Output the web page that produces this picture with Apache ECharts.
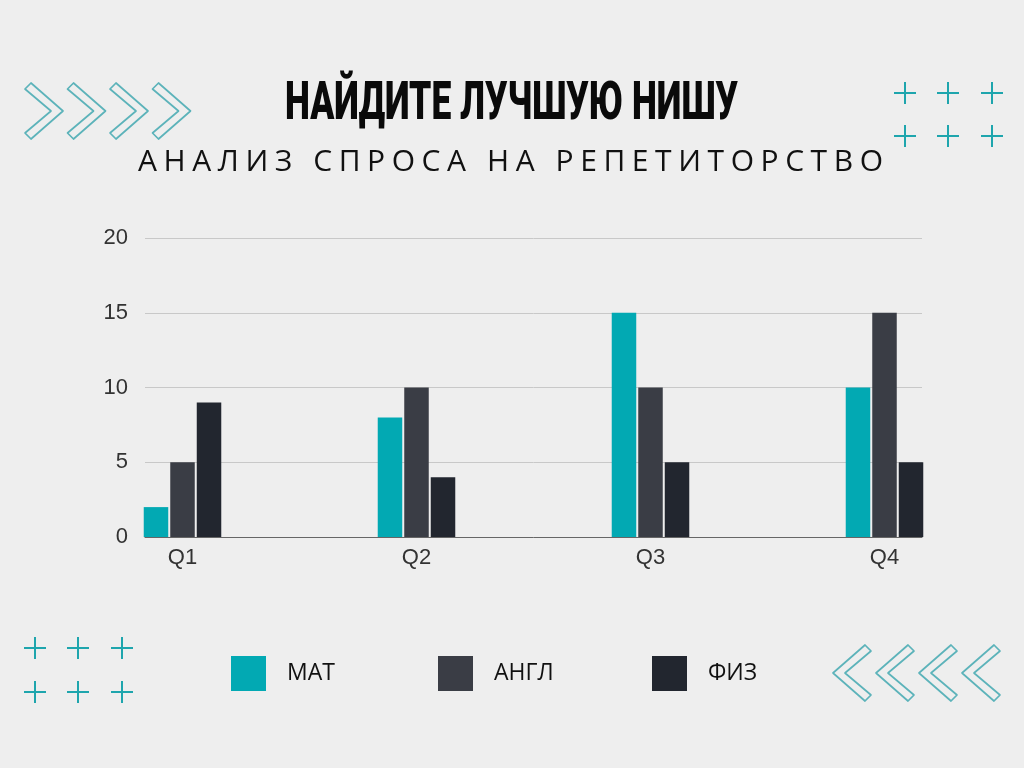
<!DOCTYPE html>
<html>
<head>
<meta charset="utf-8">
<script src="https://cdn.jsdelivr.net/npm/echarts@6/dist/echarts.min.js"></script>
<style>
  html, body { margin: 0; padding: 0; background: #eeeeee; }
  #wrap { position: relative; width: 1024px; height: 768px; }
  #chart { position: absolute; left: 0; top: 0; width: 1024px; height: 768px; }
  #sub { position: absolute; left: 138px; top: 145px; font-family: 'Open Sans'; font-size: 30px;
         line-height: 30px; color: #111; white-space: nowrap; }
</style>
</head>
<body>
<div id="wrap">
  <div id="chart"></div>
  <div id="sub">АНАЛИЗ СПРОСА НА РЕПЕТИТОРСТВО</div>
</div>
<script>
// ---- data ----
const titleText = 'НАЙДИТЕ ЛУЧШУЮ НИШУ';
const subtitleText = 'АНАЛИЗ СПРОСА НА РЕПЕТИТОРСТВО';
const categories = ['Q1', 'Q2', 'Q3', 'Q4'];
const seriesNames = ['МАТ', 'АНГЛ', 'ФИЗ'];
const matValues = [2, 8, 15, 10];
const anglValues = [5, 10, 10, 15];
const fizValues = [9, 4, 5, 5];
const yTicks = [0, 5, 10, 15, 20];

// ---- styles ----
const colors = ['#02a9b3', '#3a3d45', '#22262f'];
const teal = '#1ea5ad';
const chevronStroke = '#5cb3ba';

// subtitle letter spacing
(function () {
  const c = document.createElement('canvas').getContext('2d');
  c.font = '30px "Open Sans"';
  const w = c.measureText(subtitleText).width;
  const target = 745;
  const sp = (target - w) / (subtitleText.length - 1);
  document.getElementById('sub').style.letterSpacing = sp + 'px';
})();

// title horizontal scale
const titleFont = { size: 53, weight: 900, family: 'Roboto' };
let titleScale = 1;
(function () {
  const c = document.createElement('canvas').getContext('2d');
  c.font = titleFont.weight + ' ' + titleFont.size + 'px ' + titleFont.family;
  const w = c.measureText(titleText).width;
  titleScale = 453 / w;
})();

// decorations
function chevron(x0, ym, dir) {
  const base = [[4, -28], [36, 0], [4, 28], [-2, 22], [24, 0], [-2, -22]];
  return {
    type: 'polygon',
    shape: { points: base.map(p => [x0 + dir * p[0], ym + p[1]]) },
    style: { fill: 'rgba(0,0,0,0)', stroke: chevronStroke, lineWidth: 1.7, lineJoin: 'round' },
    silent: true
  };
}
function plus(cx, cy) {
  const h = 11;
  return [
    { type: 'line', shape: { x1: cx - h, y1: cy, x2: cx + h, y2: cy }, style: { stroke: teal, lineWidth: 2 }, silent: true },
    { type: 'line', shape: { x1: cx, y1: cy - h, x2: cx, y2: cy + h }, style: { stroke: teal, lineWidth: 2 }, silent: true }
  ];
}
const graphics = [];
[27, 69.5, 112, 154.5].forEach(x => graphics.push(chevron(x, 111, 1)));
[869, 912, 955, 998].forEach(x => graphics.push(chevron(x, 673, -1)));
[[905, 93], [948, 93], [992, 93], [905, 136], [948, 136], [992, 136],
 [35, 648], [78, 648], [122, 648], [35, 692], [78, 692], [122, 692]].forEach(p => graphics.push(...plus(p[0], p[1])));
graphics.push({
  type: 'text',
  x: 511.5, y: 106,
  scaleX: titleScale, scaleY: 1,
  style: {
    text: titleText,
    font: titleFont.weight + ' ' + titleFont.size + 'px ' + titleFont.family,
    fill: '#0a0a0a',
    textAlign: 'center',
    textVerticalAlign: 'middle',
    verticalAlign: 'middle'
  },
  silent: true
});

const chart = echarts.init(document.getElementById('chart'), null, { renderer: 'canvas' });
const legendPos = [231, 438, 652];
const seriesData = [matValues, anglValues, fizValues];

chart.setOption({
  backgroundColor: '#eeeeee',
  animation: false,
  color: colors,
  graphic: graphics,
  legend: seriesNames.map((n, i) => ({
    data: [n],
    left: legendPos[i],
    top: 656,
    padding: 0,
    itemWidth: 35,
    itemHeight: 35,
    icon: 'rect',
    selectedMode: false,
    textStyle: { fontFamily: 'Open Sans', fontSize: 23, color: '#111', padding: [2, 0, 0, 16] }
  })),
  grid: [
    { left: 145, right: 102, top: 238, bottom: 231 },
    { left: 65.5, right: 22.5, top: 238, bottom: 231 }
  ],
  xAxis: [
    { type: 'category', gridIndex: 0, data: categories,
      axisLine: { show: true, lineStyle: { color: '#666', width: 1 } },
      axisTick: { show: false }, axisLabel: { show: false }, splitLine: { show: false } },
    { type: 'category', gridIndex: 1, data: categories,
      axisLine: { show: false }, axisTick: { show: false },
      axisLabel: { show: true, color: '#333', fontFamily: 'Liberation Sans', fontSize: 22, margin: 10 },
      splitLine: { show: false } }
  ],
  yAxis: [
    { type: 'value', gridIndex: 0, min: yTicks[0], max: yTicks[yTicks.length - 1], interval: 5,
      axisLine: { show: false }, axisTick: { show: false },
      axisLabel: { color: '#333', fontFamily: 'Liberation Sans', fontSize: 22, margin: 17 },
      splitLine: { show: true, lineStyle: { color: '#c8c8c8', width: 1 } } },
    { type: 'value', gridIndex: 1, min: yTicks[0], max: yTicks[yTicks.length - 1], interval: 5,
      show: false, splitLine: { show: false } }
  ],
  series: seriesNames.map((n, i) => ({
    name: n,
    type: 'bar',
    xAxisIndex: 1,
    yAxisIndex: 1,
    data: seriesData[i],
    barWidth: 24.5,
    barGap: '8.2%',
    itemStyle: { color: colors[i] }
  }))
});
</script>
</body>
</html>
